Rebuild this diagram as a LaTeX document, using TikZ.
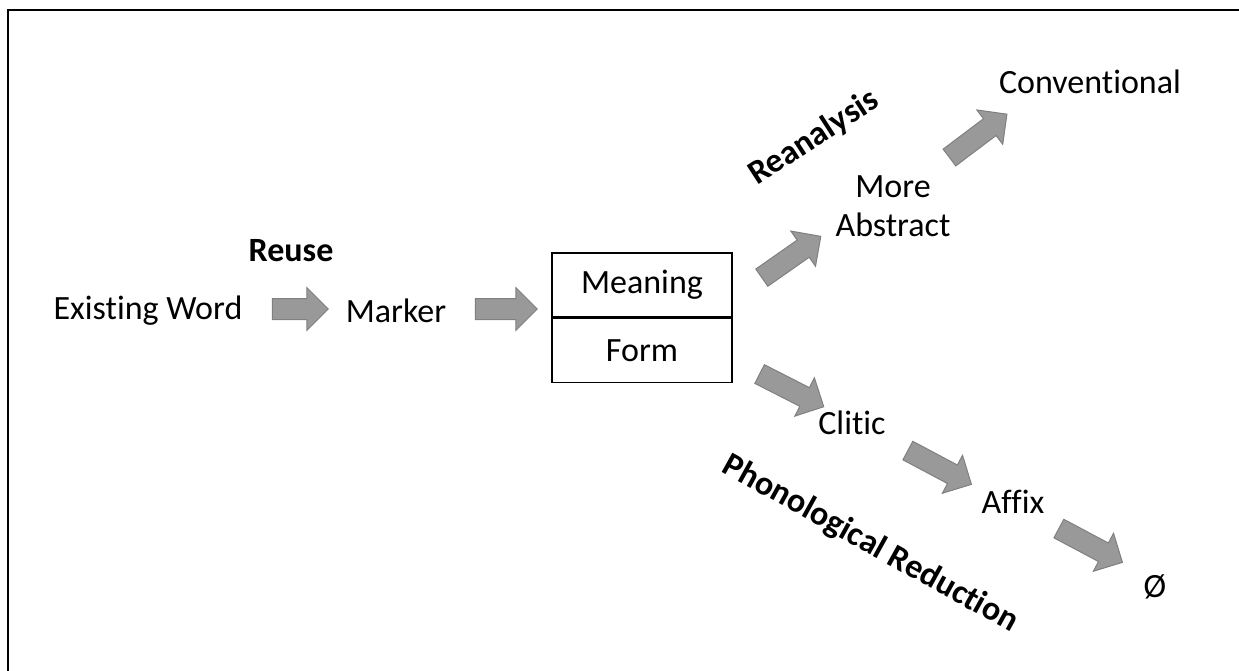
\documentclass[tikz,border=0pt]{standalone}
\usepackage{fontspec}
\setmainfont[Ligatures=NoCommon]{Carlito}
\usetikzlibrary{shapes.arrows}
\usetikzlibrary{positioning}

\begin{document}
\begin{tikzpicture}[x=1pt, y=-1pt,
        font=\fontsize{34}{39}\selectfont,
        word/.style={inner sep=2pt, align=center},
        stage/.style={inner sep=2pt, font=\fontsize{34}{39}\selectfont\bfseries},
        cell/.style={draw, rectangle, line width=1.5pt, minimum width=180pt, minimum height=64pt},
        blockarrow/.style={single arrow, draw=gray, fill=gray!80, line width=1pt, inner xsep=0pt, inner ysep=10pt,
            minimum height=72pt, single arrow head extend=11pt}]
            \useasboundingbox (0,0) rectangle (1239,671);
            \draw[line width=2pt] (8,671) -- (8,10) -- (1239,10);

            \node[word] (exist) at (148,311) {Existing Word};
            \node[word] (marker) at (396,311) {Marker};
            \node[stage] (reuse) at (291,251) {Reuse};
            \node[cell] (meaning) at (642,285) {Meaning};
            \node[cell, below=0pt of meaning] (form) {Form};
            
            \node[word] (abstract) at (893,206) {More\\Abstract};
            \node[word] (conv) at (1090,82) {Conventional};
            \node[stage, rotate=33] (reanalysis) at (814,138) {Reanalysis};
            
            \node[word] (clitic) at (852,423) {Clitic};
            \node[word] (affix) at (1013,502) {Affix};
            \node[word] (zero) at (1155,587) {Ø};
            \node[stage, rotate=-29] (reduction) at (870,544) {Phonological Reduction};
            
            \node[blockarrow, minimum height=56pt] (a1) at (295,309) {};
            \node[blockarrow, minimum height=62pt] (a2) at (501,309) {};
            \node[blockarrow, rotate=35] (up1) at (787,260) {};
            \node[blockarrow, rotate=37] (up2) at (974,139) {};
            \node[blockarrow, rotate=-27] (down1) at (787,388) {};
            \node[blockarrow, rotate=-28] (down2) at (935,465) {};
            \node[blockarrow, rotate=-28] (down3) at (1086,543) {};
        \end{tikzpicture}
\end{document}
